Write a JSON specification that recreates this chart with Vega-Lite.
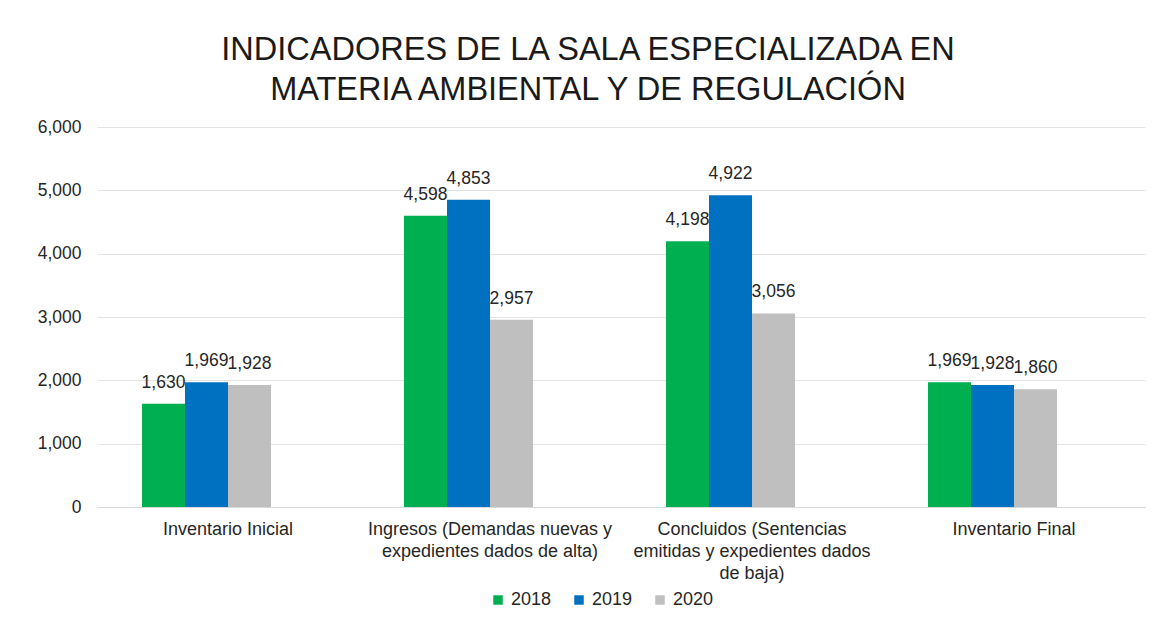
{
  "$schema": "https://vega.github.io/schema/vega-lite/v6.json",
  "autosize": {"type": "none"},
  "padding": {"left": 97, "top": 127, "right": 21, "bottom": 121},
  "width": 1048,
  "height": 380,
  "background": "white",
  "title": {
    "text": ["INDICADORES DE LA SALA ESPECIALIZADA EN", "MATERIA AMBIENTAL Y DE REGULACIÓN"],
    "font": "Liberation Sans",
    "fontSize": 32.5,
    "fontWeight": "normal",
    "color": "#1a1a1a",
    "lineHeight": 40,
    "anchor": "middle",
    "dx": -33,
    "offset": 12
  },
  "data": {
    "values": [
      {"categoria": "Inventario Inicial", "anio": "2018", "valor": 1630},
      {"categoria": "Inventario Inicial", "anio": "2019", "valor": 1969},
      {"categoria": "Inventario Inicial", "anio": "2020", "valor": 1928},
      {"categoria": "Ingresos (Demandas nuevas y expedientes dados de alta)", "anio": "2018", "valor": 4598},
      {"categoria": "Ingresos (Demandas nuevas y expedientes dados de alta)", "anio": "2019", "valor": 4853},
      {"categoria": "Ingresos (Demandas nuevas y expedientes dados de alta)", "anio": "2020", "valor": 2957},
      {"categoria": "Concluidos (Sentencias emitidas y expedientes dados de baja)", "anio": "2018", "valor": 4198},
      {"categoria": "Concluidos (Sentencias emitidas y expedientes dados de baja)", "anio": "2019", "valor": 4922},
      {"categoria": "Concluidos (Sentencias emitidas y expedientes dados de baja)", "anio": "2020", "valor": 3056},
      {"categoria": "Inventario Final", "anio": "2018", "valor": 1969},
      {"categoria": "Inventario Final", "anio": "2019", "valor": 1928},
      {"categoria": "Inventario Final", "anio": "2020", "valor": 1860}
    ]
  },
  "encoding": {
    "x": {
      "field": "categoria",
      "type": "nominal",
      "sort": ["Inventario Inicial", "Ingresos (Demandas nuevas y expedientes dados de alta)", "Concluidos (Sentencias emitidas y expedientes dados de baja)", "Inventario Final"],
      "scale": {"paddingInner": 0.3435, "paddingOuter": 0.17175},
      "axis": {
        "title": null,
        "labelAngle": 0,
        "labelFont": "Liberation Sans",
        "labelFontSize": 18,
        "labelColor": "#262626",
        "labelLimit": 400,
        "labelPadding": 13,
        "labelLineHeight": 22,
        "labelBaseline": "top",
        "ticks": false,
        "domainColor": "#d9d9d9",
        "domainWidth": 1,
        "labelExpr": "datum.label == 'Ingresos (Demandas nuevas y expedientes dados de alta)' ? ['Ingresos (Demandas nuevas y', 'expedientes dados de alta)'] : datum.label == 'Concluidos (Sentencias emitidas y expedientes dados de baja)' ? ['Concluidos (Sentencias', 'emitidas y expedientes dados', 'de baja)'] : datum.label"
      }
    },
    "xOffset": {
      "field": "anio",
      "type": "nominal",
      "scale": {"domain": ["2018", "2019", "2020", "_"], "paddingInner": 0, "paddingOuter": 0}
    },
    "y": {
      "field": "valor",
      "type": "quantitative",
      "scale": {"domain": [0, 6000], "nice": false},
      "axis": {
        "title": null,
        "values": [0, 1000, 2000, 3000, 4000, 5000, 6000],
        "format": ",d",
        "labelFont": "Liberation Sans",
        "labelFontSize": 17.5,
        "labelColor": "#262626",
        "labelPadding": 16,
        "ticks": false,
        "domain": false,
        "gridColor": "#e3e3e3",
        "gridWidth": 1
      }
    }
  },
  "layer": [
    {
      "mark": {"type": "bar"},
      "encoding": {
        "color": {
          "field": "anio",
          "type": "nominal",
          "scale": {"domain": ["2018", "2019", "2020"], "range": ["#00B050", "#0070C0", "#BFBFBF"]},
          "legend": {
            "title": null,
            "orient": "none",
            "direction": "horizontal",
            "legendX": 392,
            "legendY": 464,
            "symbolType": "square",
            "symbolSize": 90,
            "symbolStrokeWidth": 0,
            "labelFont": "Liberation Sans",
            "labelFontSize": 18,
            "labelColor": "#262626",
            "labelOffset": 4,
            "columnPadding": 18
          }
        }
      }
    },
    {
      "mark": {"type": "text", "baseline": "bottom", "dy": -12, "font": "Liberation Sans", "fontSize": 17.5, "color": "#262626"},
      "encoding": {
        "text": {"field": "valor", "type": "quantitative", "format": ",d"}
      }
    }
  ],
  "config": {
    "view": {"stroke": null}
  }
}
